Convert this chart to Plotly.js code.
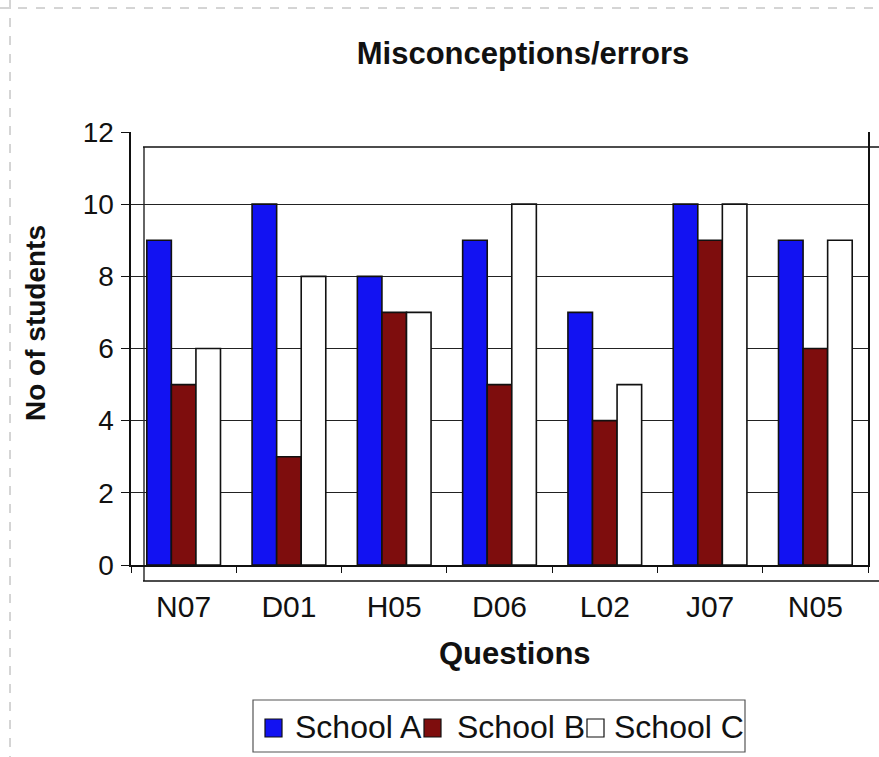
<!DOCTYPE html>
<html><head><meta charset="utf-8">
<script src="https://cdn.plot.ly/plotly-3.0.1.min.js"></script>
<style>body{margin:0;background:#fff}#c{width:879px;height:757px}</style>
</head><body><div id="c"></div>
<script>
const questions = ["N07","D01","H05","D06","L02","J07","N05"];
const schoolA = [9,10,8,9,7,10,9];
const schoolB = [5,3,7,5,4,9,6];
const schoolC = [6,8,7,10,5,10,9];
const seriesNames = ["School A","School B","School C"];
const seriesColors = ["#1212f2","#7e0d0d","#ffffff"];
const yTicks = [0,2,4,6,8,10,12];

// plot area in pixels (for decorative frame / legend placement)
const L = 131, R = 868, T = 132, B = 565;
const px = x => (x - L) / (R - L);
const py = y => (B - y) / (B - T);

const line = {color:'#111', width:1.6};
const series = [schoolA, schoolB, schoolC];
const traces = series.map((vals, i) => ({
  type:'bar', name:seriesNames[i], x:questions, y:vals,
  marker:{color:seriesColors[i], line:line}, showlegend:false
}));

const shapes = [
  // 3D back-wall / floor frame lines
  {type:'line', xref:'paper', yref:'paper', x0:px(143), x1:px(879), y0:py(147), y1:py(147), line:{color:'#111', width:1.3}},
  {type:'line', xref:'paper', yref:'paper', x0:px(144), x1:px(144), y0:py(147), y1:py(581), line:{color:'#111', width:1.3}, layer:'below'},
  {type:'line', xref:'paper', yref:'paper', x0:px(143), x1:px(879), y0:py(581), y1:py(581), line:{color:'#111', width:1.3}},
  // page scan border
  {type:'line', xref:'paper', yref:'paper', x0:px(0), x1:px(879), y0:py(8), y1:py(8), line:{color:'#aaa', width:1, dash:'dash'}},
  {type:'line', xref:'paper', yref:'paper', x0:px(10), x1:px(10), y0:py(0), y1:py(757), line:{color:'#aaa', width:1, dash:'dash'}},
  // legend box
  {type:'rect', xref:'paper', yref:'paper', x0:px(253), x1:px(745), y0:py(700), y1:py(752), line:{color:'#555', width:1.2}, fillcolor:'rgba(0,0,0,0)'}
];
const legSq = [265, 424, 587];
const legTx = [293, 455, 612];
const annotations = [
  {text:'<b>No of students</b>', xref:'paper', yref:'paper', x:px(35), y:py(323), textangle:-90, showarrow:false, font:{size:28, color:'#111'}, xanchor:'center', yanchor:'middle'},
  {text:'<b>Questions</b>', xref:'paper', yref:'paper', x:px(515), y:py(653), showarrow:false, font:{size:31, color:'#111'}, xanchor:'center', yanchor:'middle'}
];
seriesNames.forEach((n, i) => {
  shapes.push({type:'rect', xref:'paper', yref:'paper', x0:px(legSq[i]), x1:px(legSq[i]+17), y0:py(719), y1:py(737),
    fillcolor:seriesColors[i], line:{color:'#111', width:1.2}});
  annotations.push({text:n, xref:'paper', yref:'paper', x:px(legTx[i]), y:py(727), xanchor:'left', yanchor:'middle',
    showarrow:false, font:{size:32, color:'#111'}});
});

const layout = {
  width:879, height:757,
  margin:{l:L, r:879-R, t:T, b:757-B},
  paper_bgcolor:'#fff', plot_bgcolor:'#fff',
  font:{family:'Liberation Sans, Arial, sans-serif', color:'#111'},
  title:{text:'<b>Misconceptions/errors</b>', font:{size:31, color:'#111'}, x:0.595, xanchor:'center', y:0.93, yanchor:'middle'},
  bargap:0.3, bargroupgap:0,
  xaxis:{tickfont:{size:30}, showline:true, linecolor:'#111', linewidth:1.6, mirror:false,
    ticks:'outside', tickson:'boundaries', ticklen:6, tickcolor:'#111', ticklabelstandoff:14},
  yaxis:{range:[0,12], tickvals:yTicks, tickfont:{size:28}, showgrid:true, gridcolor:'#222', gridwidth:1,
    showline:true, linecolor:'#111', linewidth:1.6, mirror:true, ticks:'outside', ticklen:8, tickcolor:'#111',
    zeroline:false, ticklabelstandoff:2},
  showlegend:false,
  shapes:shapes, annotations:annotations
};
Plotly.newPlot('c', traces, layout, {displayModeBar:false, staticPlot:true});
</script></body></html>
